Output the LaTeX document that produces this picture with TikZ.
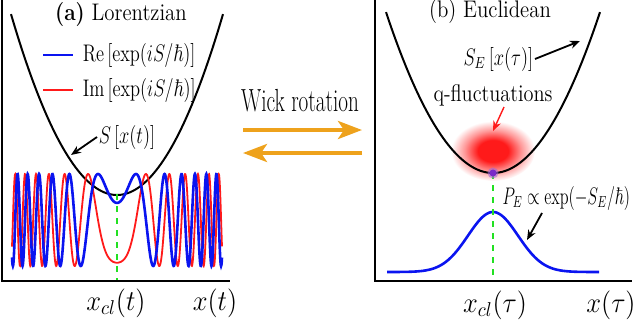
\documentclass[tikz,border=0pt]{standalone}
\usepackage{amsmath,amssymb}
\usetikzlibrary{arrows.meta,positioning}
\definecolor{wkOrange}{HTML}{EEA21C}
\definecolor{wkBlue}{HTML}{0A14F0}
\definecolor{wkRed}{HTML}{FF1A1A}
\definecolor{wkGreen}{HTML}{22E022}
\definecolor{wkPurple}{HTML}{7A2AC8}
\pgfdeclareradialshading{qblob}{\pgfpointorigin}{%
  color(0bp)=(wkRed); color(9bp)=(wkRed); color(17bp)=(wkRed!45); color(25bp)=(white); color(50bp)=(white)}
\tikzset{
  % axes and the action curves
  wk/axis/.style={draw=black, line width=1.2pt},
  wk/action/.style={draw=black, line width=1pt},
  % oscillating integrand and the Euclidean weight
  wk/reline/.style={draw=wkBlue, line width=1.3pt},
  wk/imline/.style={draw=wkRed, line width=0.9pt},
  wk/classical/.style={draw=wkGreen, dashed, line width=0.9pt},
  % pointers from labels to curves
  wk/ptr/.style={-{Stealth[length=5pt,width=4pt]}, draw=black, line width=0.9pt},
  wk/ptrRed/.style={wk/ptr, draw=wkRed, fill=wkRed, line width=0.7pt},
  % the two Wick arrows
  wk/wick/.style={-{Stealth[length=12pt,width=9pt,inset=3pt]}, draw=wkOrange,
    fill=wkOrange, line width=2pt},
  % texts: the source figure is squeezed sideways
  wk/title/.style={font=\fontsize{12}{14}\selectfont, xscale=0.87, inner sep=1pt},
  wk/wicklbl/.style={font=\fontsize{16}{18}\selectfont, xscale=0.66, inner sep=1pt},
  wk/lbl/.style={font=\fontsize{12}{14}\selectfont, xscale=0.77, inner sep=1pt},
  wk/axlbl/.style={font=\Large, xscale=0.92, inner sep=1pt},
}

\begin{document}
\begin{tikzpicture}[x=0.5pt,y=-0.5pt]
  \useasboundingbox (0,0) rectangle (640,321);

  % ---- (a) Lorentzian ----
  \draw[wk/axis] (2,0) -- (2,281) -- (230,281);
  \draw[wk/action] plot[domain=-106:106, samples=90, smooth] ({117+\x},{195-0.0161*\x*\x});
  \draw[wk/imline] plot[domain=-105:105, samples=700] ({117+\x},{220-46*sin(0.189*\x*\x-68.2)});
  \draw[wk/reline] plot[domain=-105:105, samples=700] ({117+\x},{220-46*cos(0.189*\x*\x-68.2)});
  \coordinate (clA) at (117,194);
  \coordinate (axA) at (117,280);
  \draw[wk/classical] (clA) -- (axA);

  \node[wk/title] (ttlA) at (121,15) {\textbf{(a)} Lorentzian};
  \coordinate (reA) at (43,55);  \coordinate (reB) at (73,55);
  \coordinate (imA) at (43,90);  \coordinate (imB) at (73,90);
  \draw[wk/reline] (reA) -- (reB);
  \draw[wk/imline, line width=1pt] (imA) -- (imB);
  \node[wk/lbl, anchor=west] (reLbl) at (81,55) {$\mathrm{Re}\left[\exp(iS/\hbar)\right]$};
  \node[wk/lbl, anchor=west] (imLbl) at (81,90) {$\mathrm{Im}\left[\exp(iS/\hbar)\right]$};
  \node[wk/lbl, anchor=west] (sLbl) at (97,137) {$S\left[x(t)\right]$};
  \coordinate (sTip) at (71,155);
  \draw[wk/ptr] (sLbl.west) -- (sTip);

  \node[wk/axlbl] (xclA) at (116,303) {$x_{cl}(t)$};
  \node[wk/axlbl] (xA) at (215,303) {$x(t)$};

  % ---- Wick rotation ----
  \node[wk/wicklbl] (wick) at (300,101) {Wick rotation};
  \coordinate (wkL1) at (243,130); \coordinate (wkR1) at (362,130);
  \coordinate (wkL2) at (243,153); \coordinate (wkR2) at (362,153);
  \draw[wk/wick] (wkL1) -- (wkR1);
  \draw[wk/wick] (wkR2) -- (wkL2);

  % ---- (b) Euclidean ----
  \shade[shading=qblob] (493,151) ellipse (42 and 30);
  \draw[wk/axis] (375,0) -- (375,281) -- (632,281);
  \draw[wk/action] plot[domain=-107:107, samples=90, smooth] ({493+\x},{173-0.01406*\x*\x});
  \draw[wk/reline] plot[domain=-106:106, samples=120, smooth] ({493+\x},{272-60*exp(-\x*\x/1250)});
  \coordinate (clB) at (493,173);
  \coordinate (axB) at (493,280);
  \draw[wk/classical] (clB) -- (axB);
  \fill[wkPurple!70, opacity=0.6] (clB) circle (5.5);
  \fill[wkPurple] (clB) circle (3.5);

  \node[wk/title] (ttlB) at (490,12) {(b) Euclidean};
  \node[wk/lbl, anchor=east] (seLbl) at (535,59) {$S_E\left[x(\tau)\right]$};
  \coordinate (seTip) at (580,41);
  \draw[wk/ptr] (seLbl.east) -- (seTip);
  \node[wk/lbl, xscale=1.1] (qLbl) at (493,95) {q-fluctuations};
  \coordinate (qFrom) at (504,107);
  \coordinate (qTip) at (493,131);
  \draw[wk/ptrRed] (qFrom) -- (qTip);
  \node[wk/lbl, xscale=0.88, anchor=west] (peLbl) at (501,198) {$P_E\propto\exp(-S_E/\hbar)$};
  \coordinate (peFrom) at (542,213);
  \coordinate (peTip) at (527,240);
  \draw[wk/ptr] (peFrom) -- (peTip);

  \node[wk/axlbl] (xclB) at (495,305) {$x_{cl}(\tau)$};
  \node[wk/axlbl] (xB) at (611,305) {$x(\tau)$};
\end{tikzpicture}
\end{document}
